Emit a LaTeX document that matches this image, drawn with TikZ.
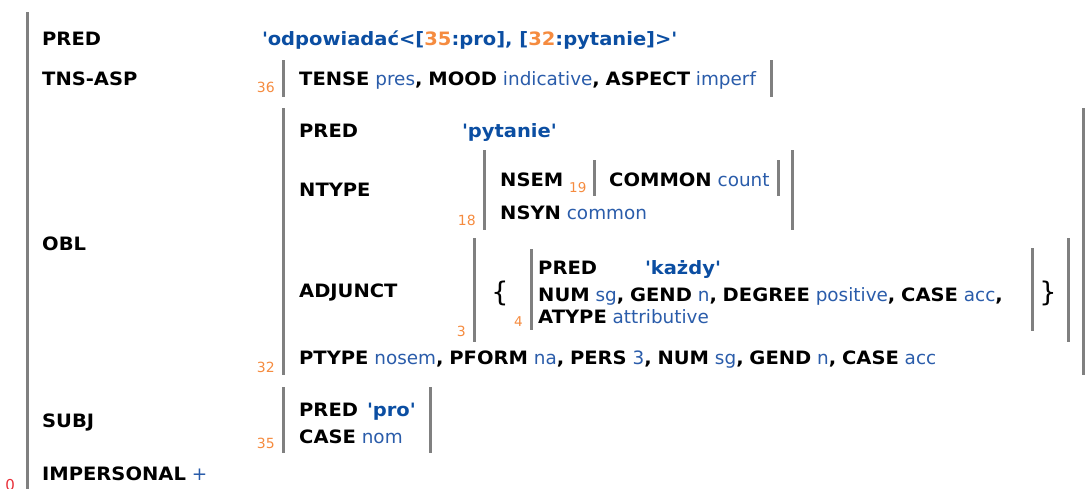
\documentclass[tikz,border=0pt]{standalone}
\usepackage{fontspec}
\setmainfont{DejaVu Sans}[BoldFeatures={FakeStretch=1.06}]
\definecolor{valblue}{HTML}{2A5CAA}
\definecolor{predblue}{HTML}{0B4EA2}
\definecolor{numor}{HTML}{F58B3F}
\definecolor{zerored}{HTML}{E8303A}
\definecolor{bargray}{HTML}{808080}
\newcommand\K[1]{\textbf{#1}}
\newcommand\V[1]{\textcolor{valblue}{#1}}
\newcommand\PV[1]{\textcolor{predblue}{\textbf{#1}}}
\newcommand\NO[1]{\textcolor{numor}{#1}}
\newcommand\Q{\textquotesingle}
\newcommand\C{\textbf{,}}
\begin{document}
\begin{tikzpicture}[x=1pt,y=-1pt,
  txt/.style={anchor=base west,inner sep=0pt,font=\fontsize{18.4}{21}\selectfont},
  num/.style={anchor=base east,inner sep=0pt,font=\fontsize{14}{16}\selectfont,text=numor},
  snum/.style={anchor=base west,inner sep=0pt,font=\fontsize{13.5}{15}\selectfont,text=numor},
  brace/.style={inner sep=0pt,font=\fontsize{27}{29}\selectfont},
  bar/.style={draw=bargray,line width=3pt}]
\useasboundingbox (0,0) rectangle (1090,488);
% outer
\draw[bar] (27,12) -- (27,490);
\node[num,text=zerored,font=\fontsize{15}{17}\selectfont] (n0) at (15,490) {0};
\node[txt] (pred) at (42,45) {\K{PRED}};
\node[txt] (predv) at (262,45) {\PV{\Q odpowiadać<[\NO{35}:pro], [\NO{32}:pytanie]>\Q}};
% TNS-ASP
\node[txt] (tns) at (42,85) {\K{TNS-ASP}};
\node[num] (n36) at (275,92) {36};
\draw[bar] (283,60) -- (283,97);
\node[txt] (tnsv) at (299,85) {\K{TENSE} \V{pres}\C{} \K{MOOD} \V{indicative}\C{} \K{ASPECT} \V{imperf}};
\draw[bar] (771,60) -- (771,97);
% OBL
\node[txt] (obl) at (42,250) {\K{OBL}};
\draw[bar] (283,108) -- (283,375);
\node[num] (n32) at (275,372) {32};
\node[txt] (oblpred) at (299,137) {\K{PRED}};
\node[txt] (oblpredv) at (462,137) {\PV{\Q pytanie\Q}};
\node[txt] (ntype) at (299,196) {\K{NTYPE}};
\draw[bar] (484,150) -- (484,230);
\node[num] (n18) at (476,225) {18};
\node[txt] (nsem) at (500,186) {\K{NSEM}};
\node[snum] (n19) at (569,192) {19};
\draw[bar] (594,160) -- (594,196);
\node[txt] (common) at (609,186) {\K{COMMON} \V{count}};
\draw[bar] (778,160) -- (778,196);
\node[txt] (nsyn) at (500,219) {\K{NSYN} \V{common}};
\draw[bar] (792,150) -- (792,230);
\node[txt] (adjunct) at (299,297) {\K{ADJUNCT}};
\draw[bar] (474,238) -- (474,342);
\node[num] (n3) at (466,336) {3};
\node[brace] (lbr) at (500,293) {\{};
\node[num,font=\fontsize{13.5}{15}\selectfont] (n4) at (523,326) {4};
\draw[bar] (531,249) -- (531,330);
\node[txt] (kpred) at (538,274) {\K{PRED}};
\node[txt] (kpredv) at (645,274) {\PV{\Q każdy\Q}};
\node[txt] (knum) at (538,301) {\K{NUM} \V{sg}\C{} \K{GEND} \V{n}\C{} \K{DEGREE} \V{positive}\C{} \K{CASE} \V{acc}\C};
\node[txt] (katype) at (538,323) {\K{ATYPE} \V{attributive}};
\draw[bar] (1032,248) -- (1032,331);
\node[brace] (rbr) at (1048,293) {\}};
\draw[bar] (1068,238) -- (1068,342);
\node[txt] (ptype) at (299,364) {\K{PTYPE} \V{nosem}\C{} \K{PFORM} \V{na}\C{} \K{PERS} \V{3}\C{} \K{NUM} \V{sg}\C{} \K{GEND} \V{n}\C{} \K{CASE} \V{acc}};
\draw[bar] (1083,108) -- (1083,375);
% SUBJ
\node[txt] (subj) at (42,427) {\K{SUBJ}};
\draw[bar] (283,387) -- (283,453);
\node[num] (n35) at (275,448) {35};
\node[txt] (spred) at (299,416) {\K{PRED}};
\node[txt] (spredv) at (367,416) {\PV{\Q pro\Q}};
\node[txt] (scase) at (299,443) {\K{CASE} \V{nom}};
\draw[bar] (430,387) -- (430,453);
% IMPERSONAL
\node[txt] (imp) at (42,480) {\K{IMPERSONAL} \V{+}};
\end{tikzpicture}
\end{document}
